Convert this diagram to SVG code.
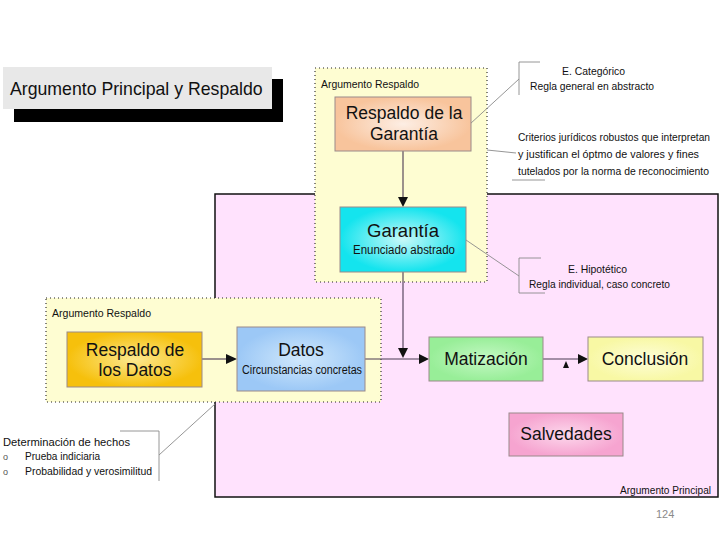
<svg xmlns="http://www.w3.org/2000/svg" width="720" height="540" viewBox="0 0 720 540">
<style>
text{font-family:"Liberation Sans",Arial,sans-serif;fill:#111}
.big{font-size:17.5px;text-anchor:middle}
.sm{font-size:11.5px}
.cr{font-size:10.5px}
.node{stroke:#9a8a8a;stroke-width:1}
.co{fill:none;stroke:#8a8a8a;stroke-width:0.9}
.ln{fill:none;stroke:#4a3a52;stroke-width:1.1}
.ah{fill:#111}
.dot{stroke:#222;stroke-width:1.1;stroke-dasharray:1 3}
</style>
<defs>
<radialGradient id="gOr"><stop offset="0" stop-color="#fdeee4"/><stop offset="1" stop-color="#f8c49c"/></radialGradient>
<radialGradient id="gCy"><stop offset="0" stop-color="#c8f8f8"/><stop offset="1" stop-color="#14e4ee"/></radialGradient>
<radialGradient id="gGo"><stop offset="0" stop-color="#fce890"/><stop offset="1" stop-color="#f6c00c"/></radialGradient>
<radialGradient id="gBl"><stop offset="0" stop-color="#d0e8fc"/><stop offset="1" stop-color="#9cc8f6"/></radialGradient>
<radialGradient id="gGr"><stop offset="0" stop-color="#c4f8c4"/><stop offset="1" stop-color="#98ee98"/></radialGradient>
<radialGradient id="gYe"><stop offset="0" stop-color="#fdfdd8"/><stop offset="1" stop-color="#f8f8a4"/></radialGradient>
<radialGradient id="gPk"><stop offset="0" stop-color="#fcd8ec"/><stop offset="1" stop-color="#f6a4d0"/></radialGradient>
</defs>
<rect width="720" height="540" fill="#fff"/>

<g id="titulo">
<rect x="14" y="79" width="269" height="43" fill="#000"/>
<rect x="3" y="67" width="269" height="42" fill="#e8e8e8"/>
<text x="10" y="95" style="font-size:17.7px">Argumento Principal y Respaldo</text>
</g>

<g id="argumento-principal">
<rect x="215" y="194" width="503" height="303" fill="#ffe2fd" stroke="#111" stroke-width="1.5"/>
<text class="cr" x="620" y="494" textLength="91" lengthAdjust="spacingAndGlyphs">Argumento Principal</text>
</g>

<g id="respaldo-superior">
<rect x="315" y="68" width="172" height="214" fill="#fefdd2" class="dot"/>
<text class="sm" x="321" y="88" textLength="98" lengthAdjust="spacingAndGlyphs">Argumento Respaldo</text>
</g>

<g id="respaldo-inferior">
<rect x="46" y="298" width="335" height="104" fill="#fefdd2" class="dot"/>
<text class="sm" x="52" y="317" textLength="99" lengthAdjust="spacingAndGlyphs">Argumento Respaldo</text>
</g>

<g id="connectors">
<line class="ln" x1="403" y1="151" x2="403" y2="199"/>
<path class="ah" d="M398,197 L408,197 L403,207 Z"/>
<line class="ln" x1="403" y1="272" x2="403" y2="350"/>
<path class="ah" d="M398,348 L408,348 L403,358 Z"/>
<line class="ln" x1="365" y1="359" x2="421" y2="359"/>
<path class="ah" d="M419,354 L419,364 L429,359 Z"/>
<line class="ln" x1="202" y1="359" x2="229" y2="359"/>
<path class="ah" d="M226,354 L226,364 L237,359 Z"/>
<line class="ln" x1="543" y1="359" x2="580" y2="359"/>
<path class="ah" d="M578,354 L578,364 L588,359 Z"/>
<path class="ah" d="M563,368 L569,368 L566,361 Z"/>
<polyline class="co" points="540,62 519,62 519,95"/>
<line class="co" x1="470" y1="124" x2="519" y2="79"/>
<line class="co" x1="487" y1="150" x2="516" y2="153"/>
<line class="co" x1="512" y1="180" x2="545" y2="180"/>
<polyline class="co" points="541,258 519,258 519,293 545,293"/>
<line class="co" x1="466" y1="240" x2="519" y2="276"/>
<polyline class="co" points="120,431 159,431 159,481"/>
<line class="co" x1="159" y1="455" x2="215" y2="404"/>
</g>

<g id="respaldo-garantia">
<rect class="node" x="335" y="97" width="136" height="54" fill="url(#gOr)"/>
<text class="big" x="404" y="119">Respaldo de la</text>
<text class="big" x="404" y="140">Garantía</text>
</g>

<g id="garantia">
<rect class="node" x="340" y="207" width="126" height="65" fill="url(#gCy)"/>
<text class="big" x="403" y="237" style="font-size:18.5px">Garantía</text>
<text class="sm" x="353" y="254" style="font-size:12.5px" textLength="102" lengthAdjust="spacingAndGlyphs">Enunciado abstrado</text>
</g>

<g id="respaldo-datos">
<rect class="node" x="67" y="332" width="135" height="55" fill="url(#gGo)"/>
<text class="big" x="135" y="356">Respaldo de</text>
<text class="big" x="135" y="376">los Datos</text>
</g>

<g id="datos">
<rect class="node" x="237" y="327" width="128" height="64" fill="url(#gBl)"/>
<text class="big" x="301" y="356">Datos</text>
<text class="sm" x="242" y="374" style="font-size:12.5px" textLength="120" lengthAdjust="spacingAndGlyphs">Circunstancias concretas</text>
</g>

<g id="matizacion">
<rect class="node" x="429" y="337" width="114" height="44" fill="url(#gGr)"/>
<text class="big" x="486" y="365">Matización</text>
</g>

<g id="conclusion">
<rect class="node" x="588" y="337" width="115" height="44" fill="url(#gYe)"/>
<text class="big" x="645" y="365">Conclusión</text>
</g>

<g id="salvedades">
<rect class="node" x="509" y="413" width="114" height="43" fill="url(#gPk)"/>
<text class="big" x="566" y="440">Salvedades</text>
</g>

<g id="nota-categorico">
<text class="sm" x="562" y="75" textLength="63" lengthAdjust="spacingAndGlyphs">E. Categórico</text>
<text class="sm" x="530" y="90" textLength="124" lengthAdjust="spacingAndGlyphs">Regla general en abstracto</text>
</g>

<g id="nota-criterios">
<text class="cr" x="518" y="141" textLength="192" lengthAdjust="spacingAndGlyphs">Criterios jurídicos robustos que interpretan</text>
<text class="cr" x="518" y="158" textLength="181" lengthAdjust="spacingAndGlyphs">y justifican el óptmo de valores y fines</text>
<text class="cr" x="518" y="175" textLength="191" lengthAdjust="spacingAndGlyphs">tutelados por la norma de reconocimiento</text>
</g>

<g id="nota-hipotetico">
<text class="sm" x="568" y="273" textLength="59" lengthAdjust="spacingAndGlyphs">E. Hipotético</text>
<text class="sm" x="529" y="288" textLength="141" lengthAdjust="spacingAndGlyphs">Regla individual, caso concreto</text>
</g>

<g id="nota-hechos">
<text class="sm" x="3" y="446" textLength="127" lengthAdjust="spacingAndGlyphs">Determinación de hechos</text>
<text x="3" y="460" style="font-size:9px;fill:#555">o</text>
<text class="sm" x="25" y="460" textLength="75" lengthAdjust="spacingAndGlyphs">Prueba indiciaria</text>
<text x="3" y="475" style="font-size:9px;fill:#555">o</text>
<text class="sm" x="25" y="475" textLength="127" lengthAdjust="spacingAndGlyphs">Probabilidad y verosimilitud</text>
</g>

<text x="656" y="518" style="font-size:11px;fill:#8a8a8a">124</text>
</svg>
